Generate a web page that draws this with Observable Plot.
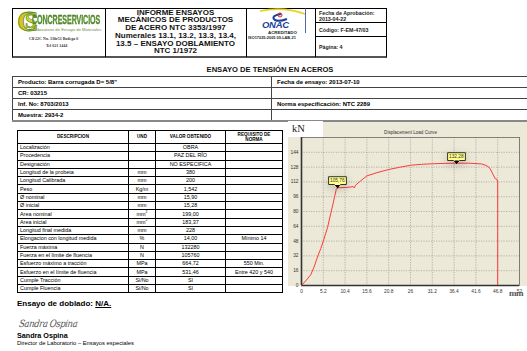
<!DOCTYPE html>
<html><head><meta charset="utf-8">
<script src="https://cdn.jsdelivr.net/npm/d3@7"></script>
<script src="https://cdn.jsdelivr.net/npm/@observablehq/plot@0.6"></script>
<style>
html,body{margin:0;padding:0;background:#fff;}
#page{position:relative;width:527px;height:351px;overflow:hidden;font-family:"Liberation Sans",Arial,sans-serif;color:#000;background:#fff;}
.abs{position:absolute;}
.hb{font-weight:bold;}
table{border-collapse:collapse;table-layout:fixed;}
#info td{border:0.8px solid #444;font-weight:bold;font-size:6px;padding:0 0 0 5px;height:10px;white-space:nowrap;overflow:hidden;}
#main{border:1.5px solid #000;}
#main td,#main th{border-top:0.8px solid #000;border-bottom:0.8px solid #000;border-left:1.5px solid #000;border-right:1.5px solid #000;font-size:5.4px;padding:0;height:7.3px;line-height:7px;white-space:nowrap;overflow:hidden;}
#main th{font-size:4.6px;font-weight:bold;height:12px;line-height:5.4px;}
#main td.c{text-align:center;}
#main td.l{text-align:left;padding-left:2px;}
</style></head>
<body><div id="page">

<!-- header box -->
<div class="abs" style="left:12px;top:8px;width:373px;height:47px;border:1px solid #000;border-bottom:2px solid #555;"></div>
<div class="abs" style="left:105px;top:8px;width:1px;height:49px;background:#000;"></div>
<div class="abs" style="left:246px;top:8px;width:1px;height:49px;background:#000;"></div>
<div class="abs" style="left:315px;top:8px;width:1px;height:49px;background:#000;"></div>
<div class="abs" style="left:315px;top:22px;width:71px;height:1px;background:#000;"></div>
<div class="abs" style="left:315px;top:36px;width:71px;height:1px;background:#000;"></div>

<!-- CS logo -->
<div class="abs hb" style="left:17px;top:4px;font-size:30px;color:#d9c21e;-webkit-text-stroke:0.8px #4f8a25;font-family:'Liberation Serif',serif;">C</div>
<div class="abs hb" style="left:25px;top:10px;font-size:20px;color:#e3cf2a;-webkit-text-stroke:0.6px #4f8a25;font-family:'Liberation Serif',serif;">S</div>
<div class="abs hb" style="left:32px;top:12px;font-size:13px;color:#5d9a2c;-webkit-text-stroke:0.3px #2f5e16;transform:scaleX(0.55);transform-origin:left top;white-space:nowrap;letter-spacing:-0.2px;">CONCRESERVICIOS</div>
<div class="abs" style="left:33px;top:27px;font-size:4.2px;color:#6f8b4a;white-space:nowrap;">Laboratorio de Ensayo de Materiales</div>
<div class="abs hb" style="left:29px;top:36px;font-size:4px;color:#333;white-space:nowrap;font-family:'Liberation Serif',serif;">Cll 22C No. 130r51 Bodega 6</div>
<div class="abs hb" style="left:46px;top:42.5px;font-size:4px;color:#333;white-space:nowrap;font-family:'Liberation Serif',serif;">Tel 621 1444</div>

<!-- title -->
<div class="abs hb" style="left:105px;top:8.5px;width:141px;text-align:center;font-size:8px;line-height:7.5px;color:#111;">INFORME ENSAYOS<br>MECÁNICOS DE PRODUCTOS<br>DE ACERO NTC 3353/1997<br><span style="display:inline-block;margin-top:1.2px;">Numerales 13.1, 13.2, 13.3, 13.4,</span><br>13.5 – ENSAYO DOBLAMIENTO<br>NTC 1/1972</div>

<!-- ONAC logo -->
<svg class="abs" style="left:248px;top:8px;" width="66" height="34">
  <path d="M12 3 Q35 -2 57 6" fill="none" stroke="#e8d21c" stroke-width="1.6"/>
  <path d="M33 6 Q22 8 27 12 Q31 14 39 11" fill="none" stroke="#1f3f9a" stroke-width="2"/>
  <circle cx="32" cy="7" r="2" fill="none" stroke="#d22" stroke-width="1"/>
  <line x1="57.5" y1="0" x2="57.5" y2="25" stroke="#2a3f8f" stroke-width="0.8"/>
</svg>
<div class="abs hb" style="left:262px;top:19px;font-size:9.5px;font-style:italic;color:#1f3f9a;letter-spacing:-0.3px;">ONAC</div>
<div class="abs hb" style="left:268px;top:30px;font-size:4.4px;color:#222;">ACREDITADO</div>
<div class="abs hb" style="left:248px;top:34.5px;font-size:3.9px;color:#222;white-space:nowrap;">ISO17025:2005 09-LAB-21</div>

<!-- right cell -->
<div class="abs hb" style="left:319px;top:9.5px;font-size:5.3px;line-height:6.4px;color:#222;white-space:nowrap;">Fecha de Aprobación:<br>2013-04-22</div>
<div class="abs hb" style="left:319px;top:26.5px;font-size:5.3px;color:#222;white-space:nowrap;">Código: F-EM-47/03</div>
<div class="abs hb" style="left:319px;top:43.5px;font-size:5.3px;color:#222;white-space:nowrap;">Página: 4</div>

<!-- section title -->
<div class="abs hb" style="left:0;top:65px;width:540px;text-align:center;font-size:7.6px;color:#111;">ENSAYO DE TENSIÓN EN ACEROS</div>

<!-- info table -->
<table id="info" class="abs" style="left:12px;top:76px;width:530px;border-bottom:2px solid #888;"></table>

<!-- main table -->
<table id="main" class="abs" style="left:17px;top:130px;width:265px;"></table>

<!-- chart panel -->
<div class="abs" style="left:288px;top:122px;width:239px;height:164px;background:#ece9d8;"></div>
<div id="chart" class="abs" style="left:288px;top:122px;"></div>
<div class="abs" style="left:288px;top:121px;width:35px;height:16px;background:#fff;"></div>
<div class="abs" style="left:292px;top:122.5px;font-size:10.5px;font-family:'Liberation Serif',serif;color:#222;">kN</div>
<div class="abs hb" style="left:509px;top:288px;font-size:9px;font-family:'Liberation Serif',serif;color:#555;letter-spacing:-0.5px;">mm</div>

<!-- bottom -->
<div class="abs hb" style="left:17px;top:299px;font-size:8px;white-space:nowrap;">Ensayo de doblado: <u>N/A.</u></div>
<div class="abs" style="left:20px;top:318px;font-size:10px;font-style:italic;font-family:'DejaVu Serif',serif;color:#555;transform:scaleX(0.85) skewX(-10deg);transform-origin:left top;white-space:nowrap;letter-spacing:-0.5px;">Sandra Ospina</div>
<div class="abs hb" style="left:17px;top:331px;font-size:7.2px;white-space:nowrap;">Sandra Ospina</div>
<div class="abs" style="left:17px;top:340px;font-size:5.8px;white-space:nowrap;">Director de Laboratorio – Ensayos especiales</div>

</div>
<script>
// ---- header/info table data ----
const infoLeft = ["Producto:  Barra corrugada D= 5/8''", "CR: 03215", "Inf. No:  8703/2013", "Muestra: 2934-2"];
const infoRight = ["Fecha de ensayo: 2013-07-10", "", "Norma especificación: NTC 2289", ""];

// ---- results table data ----
const descripcion = ["Localización","Procedencia","Designación","Longitud de la probeta","Longitud Calibrada","Peso","Ø nominal","Ø inicial","Area nominal","Area inicial","Longitud final medida","Elongacion con longitud medida","Fuerza máxima","Fuerza en el límite de fluencia","Esfuerzo máximo a tracción","Esfuerzo en el límite de fluencia","Cumple Tracción","Cumple Fluencia"];
const unidad = ["","","","mm","mm","Kg/m","mm","mm","mm²","mm²","mm","%","N","N","MPa","MPa","Si/No","Si/No"];
const valor = ["OBRA","PAZ DEL RÍO","NO ESPECIFICA","380","200","1,542","15,90","15,28","199,00","183,37","228","14,00","132280","105760","664,72","531,46","SI","SI"];
const requisito = ["","","","","","","","","","","","Mínimo 14","","","550 Min.","Entre 420 y 540","",""];

// ---- chart data: displacement (mm) vs load (kN) ----
const dispMm = [0, 1.0, 2.2, 3.0, 3.9, 4.6, 5.2, 6.2, 7.4, 7.9, 8.3, 8.6, 9.6, 10.6, 11.6, 12.3, 12.6, 12.9, 13.8, 15.6, 18.0, 20.8, 23.4, 26.0, 28.6, 31.2, 34.0, 37.0, 40.0, 43.0, 44.2, 45.0, 45.7, 46.2, 46.6, 46.8, 46.8];
const loadKN = [0, 5, 11.6, 20, 32, 40, 48, 62.5, 86, 96, 104, 105.76, 105.8, 106.0, 106.4, 107.0, 105.4, 108.4, 112, 118.5, 122, 125.4, 127.8, 130, 131, 131.6, 132.0, 132.28, 132.2, 131.4, 129.5, 126.5, 120, 115.5, 115, 112, 1];
const peakDisp = [8.6, 37.0];
const peakLoad = [105.76, 132.28];
const peakText = ["105,76", "132,28"];
const xTickValues = [0, 5.2, 10.4, 15.6, 20.8, 26, 31.2, 36.4, 41.6, 46.8, 52];
const yTickValues = [0, 16, 32, 48, 64, 80, 96, 112, 128, 144];
const chartTitle = "Displacement Load Curve";

// build info table
const info = document.getElementById("info");
info.innerHTML = '<colgroup><col style="width:259px"><col></colgroup>' +
  infoLeft.map((t, i) => `<tr><td>${t}</td><td>${infoRight[i]}</td></tr>`).join("");

// build main table
const main = document.getElementById("main");
main.innerHTML = '<colgroup><col style="width:111px"><col style="width:27px"><col style="width:70px"><col style="width:57px"></colgroup>' +
  '<tr><th>DESCRIPCION</th><th>UND</th><th>VALOR OBTENIDO</th><th>REQUISITO DE<br>NORMA</th></tr>' +
  descripcion.map((d, i) => {
    const u = unidad[i].replace("²", "<sup style='font-size:3.5px;line-height:0'>2</sup>");
    return `<tr><td class="l">${d}</td><td class="c">${u}</td><td class="c">${valor[i]}</td><td class="c">${requisito[i]}</td></tr>`;
  }).join("");

// chart
const curve = dispMm.map((d, i) => ({d, f: loadKN[i]}));
const peaks = peakDisp.map((d, i) => ({d, f: peakLoad[i], label: peakText[i]}));
const grid = {stroke: "#8c8c8c", strokeOpacity: 0.85, strokeDasharray: "1.2,1.3", strokeWidth: 0.7};
const chart = Plot.plot({
  width: 239, height: 180,
  marginLeft: 13, marginRight: 8, marginTop: 15, marginBottom: 17,
  style: {background: "transparent", fontFamily: "'Liberation Sans', Arial, sans-serif", fontSize: "4.8px", color: "#333", overflow: "visible"},
  x: {domain: [0, 52], ticks: xTickValues, tickFormat: d => String(d), tickSize: 0, tickPadding: 4, label: null},
  y: {domain: [0, 160], ticks: yTickValues, tickFormat: d => String(d), tickSize: 0, tickPadding: 3, label: null},
  marks: [
    Plot.gridX(xTickValues, grid),
    Plot.gridY(yTickValues, grid),
    Plot.frame({stroke: "#666", strokeWidth: 0.8}),
    Plot.ruleX([0], {stroke: "#333", strokeWidth: 1.6}),
    Plot.ruleY([0], {stroke: "#333", strokeWidth: 1.6}),
    Plot.line(curve, {x: "d", y: "f", stroke: "#ff3a3a", strokeWidth: 1}),
    Plot.tip(peaks, {x: "d", y: "f", title: "label", anchor: "bottom", fill: "#ffff8a", stroke: "#333", fontSize: 4.8, textPadding: 1.4, pointerSize: 6}),
    Plot.dot(peaks, {x: "d", y: "f", symbol: "triangle", r: 1.6, rotate: 180, dy: -1.5, fill: "#000"}),
    Plot.text([chartTitle], {frameAnchor: "top", dy: -7, fontSize: 4.6, fill: "#333"})
  ]
});
document.getElementById("chart").appendChild(chart);
</script>
</body></html>
